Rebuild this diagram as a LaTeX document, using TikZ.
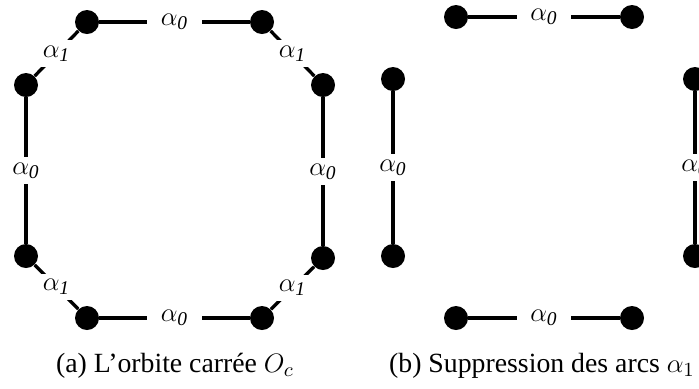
\documentclass[tikz,border=0pt]{standalone}
\usepackage{fontspec}
\setmainfont{Liberation Serif}
\usetikzlibrary{positioning}
\tikzset{
  dart/.style={circle,fill=black,inner sep=0pt,minimum size=10.8pt},
  brin/.style={line width=1.5pt,draw=black},
  lab/.style={fill=white,inner xsep=6pt,inner ysep=2.5pt,font=\fontsize{12.5}{15}\selectfont},
  capt/.style={font=\fontsize{12.5}{15}\selectfont},
}
\begin{document}
\begin{tikzpicture}[x=0.45pt,y=-0.45pt]
  \useasboundingbox (0,0) rectangle (699,388);
  % (a) orbite carree
  \node[dart] (a1) at (87,22) {};
  \node[dart] (a2) at (262,22) {};
  \node[dart] (a3) at (323,85) {};
  \node[dart] (a4) at (323,258) {};
  \node[dart] (a5) at (262,318) {};
  \node[dart] (a6) at (87,318) {};
  \node[dart] (a7) at (26,256) {};
  \node[dart] (a8) at (26,85) {};
  \draw[brin] (a1) -- node[lab] (la1) {$\alpha_{\mathit{0}}$} (a2);
  \draw[brin] (a2) -- node[lab] (la2) {$\alpha_{\mathit{1}}$} (a3);
  \draw[brin] (a3) -- node[lab] (la3) {$\alpha_{\mathit{0}}$} (a4);
  \draw[brin] (a4) -- node[lab] (la4) {$\alpha_{\mathit{1}}$} (a5);
  \draw[brin] (a5) -- node[lab] (la5) {$\alpha_{\mathit{0}}$} (a6);
  \draw[brin] (a6) -- node[lab] (la6) {$\alpha_{\mathit{1}}$} (a7);
  \draw[brin] (a7) -- node[lab] (la7) {$\alpha_{\mathit{0}}$} (a8);
  \draw[brin] (a8) -- node[lab] (la8) {$\alpha_{\mathit{1}}$} (a1);
  \node[capt] (capa) at (175,366) {(a) L’orbite carrée $O_c$};
  % (b) sans les arcs alpha1
  \node[dart] (b1) at (456,17) {};
  \node[dart] (b2) at (632,17) {};
  \node[dart] (b3) at (695,79) {};
  \node[dart] (b4) at (695,256) {};
  \node[dart] (b5) at (632,318) {};
  \node[dart] (b6) at (456,318) {};
  \node[dart] (b7) at (393,256) {};
  \node[dart] (b8) at (393,79) {};
  \draw[brin] (b1) -- node[lab] (lb1) {$\alpha_{\mathit{0}}$} (b2);
  \draw[brin] (b3) -- node[lab] (lb3) {$\alpha_{\mathit{0}}$} (b4);
  \draw[brin] (b5) -- node[lab] (lb5) {$\alpha_{\mathit{0}}$} (b6);
  \draw[brin] (b7) -- node[lab] (lb7) {$\alpha_{\mathit{0}}$} (b8);
  \node[capt] (capb) at (542,366) {(b) Suppression des arcs $\alpha_1$};
\end{tikzpicture}
\end{document}
